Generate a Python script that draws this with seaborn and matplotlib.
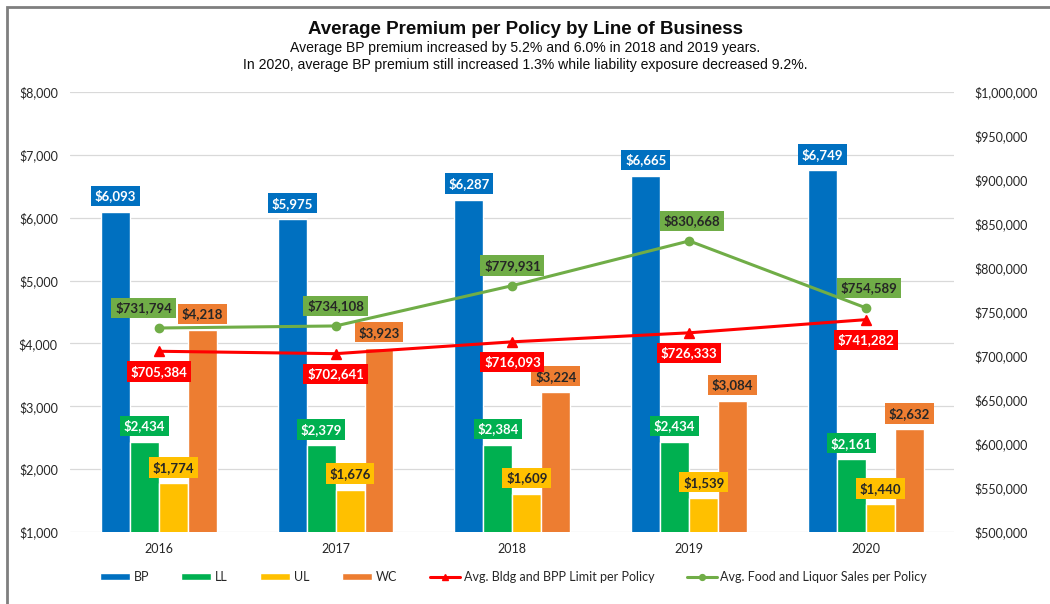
import numpy as np
import pandas as pd
import matplotlib
matplotlib.use("Agg")
import matplotlib.pyplot as plt
import seaborn as sns
from matplotlib.ticker import FuncFormatter
from matplotlib.patches import Rectangle

# Chart data
years = ["2016", "2017", "2018", "2019", "2020"]
bp = [6093, 5975, 6287, 6665, 6749]
ll = [2434, 2379, 2384, 2434, 2161]
ul = [1774, 1676, 1609, 1539, 1440]
wc = [4218, 3923, 3224, 3084, 2632]
bldg_limit = [705384, 702641, 716093, 726333, 741282]
food_sales = [731794, 734108, 779931, 830668, 754589]

lines = ["BP", "LL", "UL", "WC"]
bar_colors = ["#0070C0", "#00B050", "#FFC000", "#ED7D31"]
label_text = ["white", "white", "#262626", "#262626"]
red = "#FF0000"
green = "#70AD47"

df = pd.DataFrame({
    "year": years * 4,
    "line": [l for l in lines for _ in years],
    "premium": bp + ll + ul + wc,
})

sns.set_style("white")
plt.rcParams["font.family"] = ["Lato", "DejaVu Sans"]

fig = plt.figure(figsize=(10.5, 6.04), dpi=100)
ax = fig.add_axes([0.067, 0.119, 0.842, 0.729])

sns.barplot(data=df, x="year", y="premium", hue="line", palette=bar_colors,
            width=0.655, gap=0, saturation=1, ax=ax, legend=True)

ax.set_ylim(1000, 8000)
ax.set_xlim(-0.5, 4.5)
ax.set_yticks(np.arange(1000, 8001, 1000))
ax.yaxis.set_major_formatter(FuncFormatter(lambda v, p: f"${v:,.0f}"))
ax.grid(axis="y", color="#D9D9D9", linewidth=0.9)
ax.set_axisbelow(True)
ax.set_xlabel("")
ax.set_ylabel("")
for s in ax.spines.values():
    s.set_visible(False)
ax.tick_params(axis="both", length=0, labelsize=9, colors="#262626")
ax.tick_params(axis="y", pad=9)
ax.tick_params(axis="x", pad=8)

# bar labels
for i, cont in enumerate(ax.containers):
    for bar in cont:
        h = bar.get_height()
        ax.annotate(f"${h:,.0f}", (bar.get_x() + bar.get_width() / 2, h),
                    xytext=(0, 11.5), textcoords="offset points",
                    ha="center", va="center", fontsize=9.5, fontweight="bold",
                    color=label_text[i],
                    bbox=dict(boxstyle="square,pad=0.28", fc=bar_colors[i], ec="none"))

# secondary axis with lines
ax2 = ax.twinx()
x = np.arange(len(years))
ax2.plot(x, bldg_limit, color=red, linewidth=2.2, marker="^", markersize=7,
         label="Avg. Bldg and BPP Limit per Policy")
ax2.plot(x, food_sales, color=green, linewidth=2.2, marker="o", markersize=6,
         label="Avg. Food and Liquor Sales per Policy")
ax2.set_ylim(500000, 1000000)
ax2.set_yticks(np.arange(500000, 1000001, 50000))
ax2.yaxis.set_major_formatter(FuncFormatter(lambda v, p: f"${v:,.0f}"))
for s in ax2.spines.values():
    s.set_visible(False)
ax2.tick_params(axis="y", length=0, labelsize=9, colors="#262626", pad=14)
ax2.grid(False)

green_dx = [-11, 0, 0, 2, 2]
for xi, v, dx in zip(x, food_sales, green_dx):
    ax2.annotate(f"${v:,.0f}", (xi, v), xytext=(dx, 14.5), textcoords="offset points",
                 ha="center", va="center", fontsize=9.5, fontweight="bold", color="#262626",
                 bbox=dict(boxstyle="square,pad=0.28", fc=green, ec="none"))
for xi, v in zip(x, bldg_limit):
    ax2.annotate(f"${v:,.0f}", (xi, v), xytext=(0, -14.5), textcoords="offset points",
                 ha="center", va="center", fontsize=9.5, fontweight="bold", color="white",
                 bbox=dict(boxstyle="square,pad=0.28", fc=red, ec="none"))

# legend
h1, l1 = ax.get_legend_handles_labels()
h2, l2 = ax2.get_legend_handles_labels()
ax.get_legend().remove()
fig.legend(h1 + h2, l1 + l2, loc="center", bbox_to_anchor=(0.489, 0.045), ncol=6,
           frameon=False, fontsize=9, handlelength=2.4, handleheight=0.45,
           columnspacing=2.6, handletextpad=0.3, markerscale=0.7)

# titles
fig.text(0.5, 0.951, "Average Premium per Policy by Line of Business", ha="center",
         va="center", fontsize=13.5, fontweight="bold", family="Liberation Sans", color="#0D0D0D")
fig.text(0.5, 0.9205, "Average BP premium increased by 5.2% and 6.0% in 2018 and 2019 years.",
         ha="center", va="center", fontsize=10.1, family="Liberation Sans", color="#0D0D0D")
fig.text(0.5, 0.893, "In 2020, average BP premium still increased 1.3% while liability exposure decreased 9.2%.",
         ha="center", va="center", fontsize=10.1, family="Liberation Sans", color="#0D0D0D")

# chart border
fig.patches.append(Rectangle((7 / 1050, -0.05), 1.2, 1.05 - 7 / 604, transform=fig.transFigure,
                             fill=False, ec="#7F7F7F", lw=2, zorder=10))

fig.savefig("out.png", dpi=100)
